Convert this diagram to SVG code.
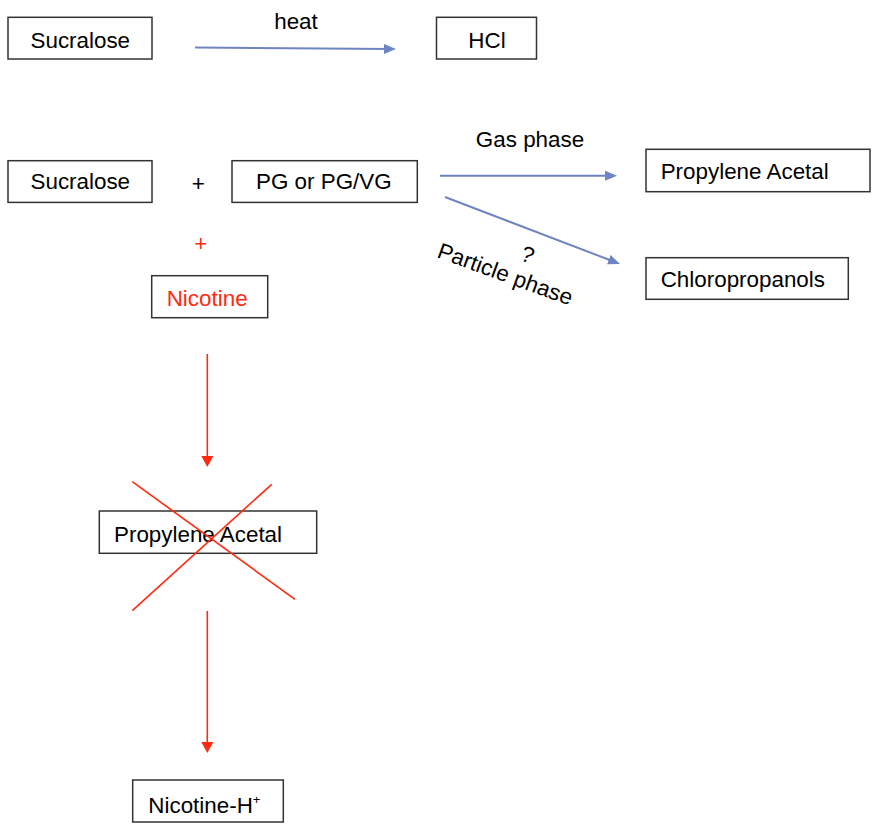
<svg xmlns="http://www.w3.org/2000/svg" width="877" height="824" viewBox="0 0 877 824">
<defs>
<style>
.box{fill:#fff;stroke:#333;stroke-width:1.5}
.t{font-family:"Liberation Sans",Arial,sans-serif;font-size:22.4px;fill:#000}
.red{fill:#ff2a0f}
.blue-line{stroke:#6f84c2;stroke-width:2;fill:none}
.red-line{stroke:#ff2a0f;stroke-width:1.6;fill:none}
</style>
<marker id="ab" markerUnits="userSpaceOnUse" markerWidth="14" markerHeight="12" refX="6" refY="5" orient="auto">
<path d="M0,0 L12,5 L0,10 z" fill="#6f84c2"/>
</marker>
<marker id="ar" markerUnits="userSpaceOnUse" markerWidth="14" markerHeight="14" refX="5" refY="6" orient="auto">
<path d="M0,0 L11,6 L0,12 z" fill="#ff2a0f"/>
</marker>
</defs>
<rect width="877" height="824" fill="#fff"/>

<g id="connectors">
<line class="blue-line" x1="195" y1="47.5" x2="390" y2="49" marker-end="url(#ab)"/>
<line class="blue-line" x1="440" y1="175.7" x2="611" y2="175.7" marker-end="url(#ab)"/>
<line class="blue-line" x1="445" y1="197" x2="614.4" y2="261.8" marker-end="url(#ab)"/>
<line class="red-line" x1="207.3" y1="354" x2="207.3" y2="461" marker-end="url(#ar)"/>
<line class="red-line" x1="207.3" y1="611" x2="207.3" y2="747" marker-end="url(#ar)"/>
</g>

<g id="labels">
<text class="t" x="296" y="29" text-anchor="middle">heat</text>
<text class="t" x="530" y="146.7" text-anchor="middle">Gas phase</text>
<text class="t" x="525" y="262" text-anchor="middle" transform="rotate(20 525 262)">?</text>
<text class="t" x="436" y="257" transform="rotate(20 436 257)">Particle phase</text>
<text class="t" x="198.3" y="190.5" text-anchor="middle">+</text>
<text class="t red" x="200.7" y="250.5" text-anchor="middle">+</text>
</g>

<g id="sucralose1">
<rect class="box" x="8" y="17.3" width="144" height="41.7"/>
<text class="t" x="30.5" y="47.7">Sucralose</text>
</g>
<g id="hcl">
<rect class="box" x="436.5" y="17.3" width="100" height="41.7"/>
<text class="t" x="468.3" y="47.7">HCl</text>
</g>
<g id="sucralose2">
<rect class="box" x="8" y="160.7" width="144" height="41.7"/>
<text class="t" x="30.5" y="189.3">Sucralose</text>
</g>
<g id="pg">
<rect class="box" x="232" y="160.7" width="185.3" height="41.7"/>
<text class="t" x="256" y="189.3">PG or PG/VG</text>
</g>
<g id="propylene-acetal-1">
<rect class="box" x="646" y="149.3" width="224" height="42.4"/>
<text class="t" x="660.7" y="179.3">Propylene Acetal</text>
</g>
<g id="chloropropanols">
<rect class="box" x="646" y="257.7" width="202.3" height="41.6"/>
<text class="t" x="660.7" y="287.3">Chloropropanols</text>
</g>
<g id="nicotine">
<rect class="box" x="151.7" y="275.7" width="116" height="42"/>
<text class="t red" x="166.7" y="306">Nicotine</text>
</g>
<g id="propylene-acetal-2">
<rect class="box" x="99.3" y="511" width="217.4" height="42.3"/>
<text class="t" x="114" y="541.7">Propylene Acetal</text>
</g>
<g id="cross">
<line class="red-line" x1="132.3" y1="481.7" x2="295" y2="599.3"/>
<line class="red-line" x1="271.7" y1="484.3" x2="132.3" y2="610.7"/>
</g>
<g id="nicotine-h">
<rect class="box" x="132.7" y="780" width="150.6" height="42"/>
<text class="t" x="148.3" y="812.7">Nicotine-H<tspan font-size="13" dy="-9" fill="#000">+</tspan></text>
</g>
</svg>
